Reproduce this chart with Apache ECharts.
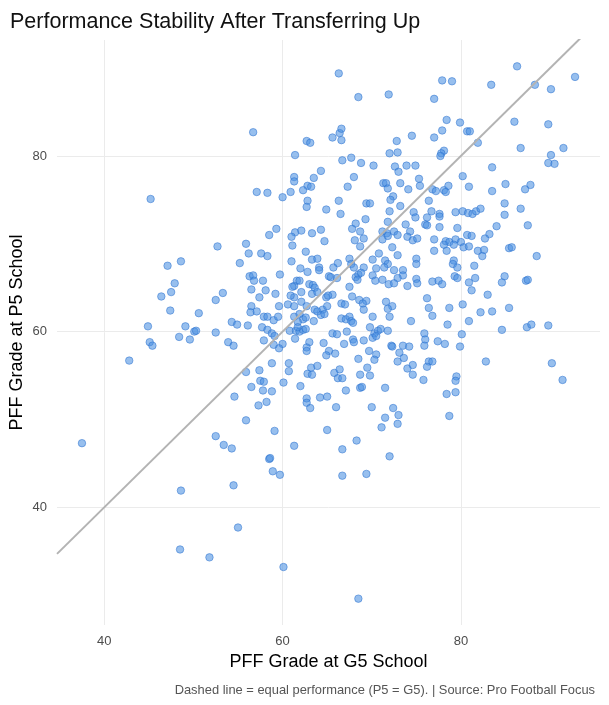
<!DOCTYPE html>
<html>
<head>
<meta charset="utf-8">
<script src="https://cdn.jsdelivr.net/npm/echarts@6/dist/echarts.min.js"></script>
<style>
  html, body { margin: 0; padding: 0; background: #fff; }
  #chart { width: 609px; height: 705px; }
</style>
</head>
<body>
<div id="chart"></div>
<script>
// [G5 grade, P5 grade] per player
const gradePairs = [
  [45.2,75.1],[52.7,69.7],[55.2,67.8],[47.1,67.5],[48.6,68.0],[47.9,65.5],[47.5,64.5],[46.4,64.0],[47.4,62.4],[53.3,64.4],
  [52.5,63.6],[50.6,62.1],[44.9,60.6],[49.1,60.6],[54.3,61.1],[54.9,60.8],[50.1,60.0],[50.3,60.1],[48.4,59.4],[49.6,59.1],
  [52.5,59.9],[45.1,58.8],[45.4,58.4],[53.9,58.8],[54.5,58.4],
  [42.8,56.7],[37.5,47.3],[54.6,52.6],[52.5,48.1],[53.4,47.1],[54.3,46.7],[54.5,42.5],[48.6,41.9],[55.0,37.7],[48.5,35.2],[51.8,34.3],
  [66.3,89.4],[68.5,86.7],[71.9,87.0],[56.7,82.7],[62.7,81.7],[63.1,81.5],[65.6,82.1],[66.4,82.6],[66.6,83.1],[66.6,81.8],
  [72.8,81.7],[74.5,82.3],[72.0,80.3],[72.9,80.4],[61.4,80.1],[66.7,79.5],[67.7,79.8],[68.8,79.2],[70.2,78.9],[72.6,78.8],
  [73.0,78.2],[73.9,78.9],[74.9,78.9],[64.3,78.3],[61.3,77.6],[61.3,77.1],[63.5,77.5],[68.0,77.6],[75.3,77.4],[62.8,76.6],
  [63.2,76.5],[62.3,76.1],[67.3,76.5],[71.3,76.9],[71.6,76.9],[71.8,76.3],[73.2,76.9],[74.1,76.2],[75.4,76.6],[57.1,75.9],
  [58.3,75.8],[60.0,75.3],[60.9,75.9],[62.8,74.9],[62.7,74.2],[64.9,73.9],[66.3,74.9],[66.5,73.4],[69.4,74.6],[69.8,74.6],
  [72.4,75.4],[72.1,75.0],[73.2,74.3],[72.0,73.7],[74.7,73.6],[74.9,73.0],[69.3,72.8],[71.8,72.5],[73.8,72.2],[68.2,72.3],
  [67.8,71.7],[68.7,71.4],[59.3,71.7],[58.5,71.0],[61.4,71.3],[62.1,71.5],[63.3,71.2],[64.3,71.6],[61.0,70.8],[64.7,70.3],
  [61.1,69.8],[55.9,70.0],[68.1,70.4],[69.1,70.6],[71.2,71.4],[71.7,71.2],[72.5,71.4],[72.9,71.0],[74.3,71.4],[71.2,70.5],
  [71.8,70.9],[74.0,70.8],[74.6,70.4],[75.1,70.6],[68.7,69.7],[72.3,69.6],
  [86.3,90.2],[92.8,89.0],[77.9,88.6],[79.0,88.5],[83.4,88.1],[88.3,88.1],[90.1,87.6],[77.0,86.5],[78.4,84.1],[79.9,83.8],
  [86.0,83.9],[89.8,83.6],[77.9,82.9],[77.0,82.1],[80.7,82.8],[81.0,82.8],[81.9,81.5],[86.7,80.9],[91.5,80.9],[90.1,80.1],
  [89.8,79.2],[90.5,79.1],[78.1,80.6],[77.8,80.3],[77.7,80.0],[83.5,78.7],[80.2,77.7],[80.9,76.5],[85.0,76.8],[87.8,76.7],
  [87.2,76.2],[83.5,76.0],[76.8,76.2],[77.2,76.0],[78.1,76.1],[78.3,75.9],[78.6,76.6],[76.4,74.9],[84.9,74.6],[86.7,74.0],
  [76.7,73.7],[77.6,73.4],[77.6,73.1],[76.2,73.0],[79.4,73.6],[80.2,73.7],[80.8,73.5],[81.3,73.4],[81.7,73.7],[82.2,74.0],
  [84.9,73.3],[76.0,72.2],[76.2,72.1],[87.5,72.1],[77.6,71.9],[79.6,71.8],[84.0,72.0],[80.7,71.0],[81.2,70.9],[83.2,71.1],
  [82.7,70.6],[77.0,70.5],[78.3,70.3],[78.7,70.2],[79.4,70.5],[80.0,70.2],[85.4,69.5],[85.7,69.6],
  [62.6,69.1],[56.2,68.9],[57.6,68.9],[58.3,68.6],[61.0,68.0],[63.3,68.2],[63.9,68.3],[65.7,67.3],[66.2,67.8],[67.5,68.3],
  [67.7,67.7],[70.1,68.2],[70.8,68.9],[72.9,68.7],[71.5,68.1],[71.8,67.7],[71.4,67.3],[75.0,68.3],[75.0,67.7],[62.0,67.2],
  [62.8,66.8],[64.1,67.3],[64.1,67.0],[65.2,66.3],[65.4,66.2],[66.1,66.1],[68.0,67.3],[69.1,67.3],[70.5,67.2],[72.5,67.0],
  [73.5,67.0],[73.5,66.4],[72.9,66.1],[68.2,66.2],[68.5,66.5],[68.8,66.7],[68.4,65.9],[70.1,66.4],[70.4,65.8],[71.2,65.9],
  [71.9,65.4],[72.5,65.5],[74.0,65.2],[75.0,66.0],[75.1,65.5],[59.7,66.5],[56.3,66.3],[56.7,66.4],[56.8,65.8],[57.8,65.8],
  [56.5,64.8],[58.1,64.7],[59.2,64.3],[57.4,63.9],[61.6,65.8],[61.9,65.8],[61.3,65.2],[61.1,65.1],[63.0,65.4],[63.4,65.3],
  [63.6,65.0],[63.3,64.3],[63.9,64.5],[62.1,64.5],[61.3,63.9],[60.9,64.1],[64.9,63.9],[65.6,64.2],[65.1,64.1],[67.5,65.1],
  [67.8,64.0],[68.6,63.6],[69.4,63.5],[69.0,63.2],[71.6,63.4],[72.3,62.9],[71.8,62.6],[72.0,61.7],[66.6,63.2],[67.0,63.1],
  [69.1,62.5],[62.1,63.4],[60.6,63.1],[61.3,62.9],[62.7,62.9],[63.6,62.5],[63.9,62.3],[64.5,62.5],[65.0,62.9],[59.6,62.9],
  [56.5,62.9],[56.4,62.2],[57.1,62.3],[57.9,61.7],[58.3,61.7],[59.0,61.3],[59.5,61.7],[61.3,61.7],[61.9,62.0],[62.3,61.4],
  [61.7,61.1],[62.6,61.6],[64.3,61.9],[63.5,61.2],[64.7,62.0],[66.6,61.5],[67.1,61.4],[67.5,61.7],[67.7,61.2],[67.9,61.0],
  [70.1,61.7],[74.4,61.2],[56.1,60.7],[57.7,60.5],[58.3,60.2],[60.8,60.1],[61.5,60.1],[61.9,60.0],[62.3,60.2],[61.7,60.5],
  [62.6,60.3],[58.8,59.8],[59.1,59.5],[69.8,60.5],[70.3,59.8],[70.7,60.1],[71.0,60.3],[71.8,60.1],[70.1,59.3],[70.5,59.5],
  [65.6,59.8],[66.1,59.7],[67.2,60.0],[57.9,59.0],[60.0,58.6],[59.6,58.1],[59.0,58.5],[61.4,59.2],[63.0,58.8],[62.7,58.2],
  [62.7,57.8],[64.6,58.7],[66.9,58.6],[67.9,59.1],[68.0,58.8],[69.1,59.0],[72.2,58.4],[72.3,58.3],[73.5,58.4],[74.2,58.3],
  [65.2,57.8],[64.9,57.3],[65.9,57.5],[69.7,57.8],[70.5,57.4],[70.3,56.8],[73.1,57.6],[73.6,57.0],[72.9,56.6],[68.5,56.9],
  [60.7,56.4],[60.7,55.5],[58.8,56.4],[57.4,55.6],[55.9,55.4],[63.2,55.9],[63.9,56.1],[62.8,55.2],[63.3,55.1],[65.8,55.3],
  [66.4,55.7],[66.2,54.7],[66.7,54.7],[69.5,55.9],[68.7,55.1],[69.8,55.0],[74.0,55.8],[74.6,56.2],[74.6,55.1],[57.5,54.4],
  [57.9,54.3],[56.5,53.7],[57.8,53.3],[58.8,53.2],[60.1,54.2],[62.0,53.8],[67.1,53.3],[68.7,53.6],[68.9,53.7],[71.5,53.6],
  [64.2,52.5],[65.0,52.6],[62.7,52.4],[62.7,51.9],[63.1,51.3],[58.2,52.0],[57.3,51.6],[66.0,51.4],[70.0,51.4],[72.4,51.3],
  [73.0,50.5],[71.5,50.2],[55.9,49.9],[72.9,49.5],[59.1,48.7],[65.0,48.8],[71.1,49.1],
  [77.0,69.2],[78.4,69.2],[78.1,69.9],[79.2,69.9],[80.3,69.6],[80.9,69.7],[81.9,69.2],[82.6,69.3],[82.4,68.6],[88.5,68.6],
  [79.2,68.1],[79.1,67.7],[79.6,67.3],[81.5,67.5],[79.3,66.3],[79.6,66.1],[81.6,66.1],[80.9,65.6],[84.9,66.3],[84.6,65.6],
  [87.3,65.8],[87.5,65.9],[76.8,65.7],[77.5,65.8],[77.9,65.4],[81.2,64.7],[83.0,64.2],[76.2,63.8],[76.4,62.7],[76.8,61.8],
  [78.7,62.7],[80.2,63.1],[82.2,62.2],[83.5,62.3],[85.4,62.7],[78.5,60.8],[80.9,61.2],[84.6,60.2],[87.4,60.5],[87.9,60.8],
  [89.8,60.7],[75.9,59.8],[76.0,59.1],[75.9,58.4],[77.4,58.9],[78.2,58.6],[80.1,59.7],[79.9,58.3],[76.4,56.6],[76.8,56.6],
  [76.2,56.0],[82.8,56.6],[90.2,56.4],[75.8,54.5],[79.5,54.9],[79.4,54.4],[78.4,52.9],[79.4,53.1],[91.4,54.5],[78.7,50.4],
  [61.3,47.0],[58.5,45.5],[58.6,45.6],[58.9,44.1],[59.7,43.7],[66.7,46.6],[68.3,47.6],[72.0,45.8],[66.7,43.6],[69.4,43.8],
  [60.1,33.2],[68.5,29.6]
];

const xTicks = [40, 60, 80];
const yTicks = [40, 60, 80];
const xRange = [34.7, 95.6];
const yRange = [26.6, 93.2];

const chart = echarts.init(document.getElementById('chart'), null, { renderer: 'canvas' });

const axisFont = 'Liberation Sans, Arial, sans-serif';

chart.setOption({
  backgroundColor: '#ffffff',
  animation: false,
  title: [
    {
      text: 'Performance Stability After Transferring Up',
      left: 5,
      top: 6,
      textStyle: { fontFamily: axisFont, fontSize: 21.5, fontWeight: 'normal', color: '#111' }
    },
    {
      text: 'Dashed line = equal performance (P5 = G5). | Source: Pro Football Focus',
      right: 9,
      top: 679,
      textStyle: { fontFamily: axisFont, fontSize: 12.9, fontWeight: 'normal', color: '#555' }
    }
  ],
  grid: { left: 57, right: 9, top: 40, bottom: 80, containLabel: false, outerBoundsMode: 'none' },
  xAxis: {
    type: 'value',
    min: xRange[0],
    max: xRange[1],
    name: 'PFF Grade at G5 School',
    nameLocation: 'middle',
    nameGap: 28,
    nameMoveOverlap: false,
    nameTextStyle: { fontFamily: axisFont, fontSize: 18, color: '#000' },
    axisLine: { show: false },
    axisTick: { show: false, customValues: xTicks },
    axisLabel: { customValues: xTicks, margin: 10, fontFamily: axisFont, fontSize: 13, color: '#4d4d4d' },
    splitLine: { show: true, lineStyle: { color: '#ebebeb', width: 1 } }
  },
  yAxis: {
    type: 'value',
    min: yRange[0],
    max: yRange[1],
    name: 'PFF Grade at P5 School',
    nameLocation: 'middle',
    nameGap: 31,
    nameRotate: 90,
    nameMoveOverlap: false,
    nameTextStyle: { fontFamily: axisFont, fontSize: 18, color: '#000' },
    axisLine: { show: false },
    axisTick: { show: false, customValues: yTicks },
    axisLabel: { customValues: yTicks, margin: 10, fontFamily: axisFont, fontSize: 13, color: '#4d4d4d' },
    splitLine: { show: true, lineStyle: { color: '#ebebeb', width: 1 } }
  },
  series: [
    {
      type: 'scatter',
      data: gradePairs,
      symbolSize: 7.5,
      itemStyle: {
        color: 'rgba(74, 144, 226, 0.72)',
        borderColor: 'rgba(40, 110, 205, 0.8)',
        borderWidth: 0.8
      },
      z: 2
    },
    {
      type: 'line',
      data: [[xRange[0], xRange[0]], [xRange[1], xRange[1]]],
      symbol: 'none',
      clip: true,
      lineStyle: { color: '#b3b3b3', width: 2 },
      z: 3
    }
  ]
});
</script>
</body>
</html>
